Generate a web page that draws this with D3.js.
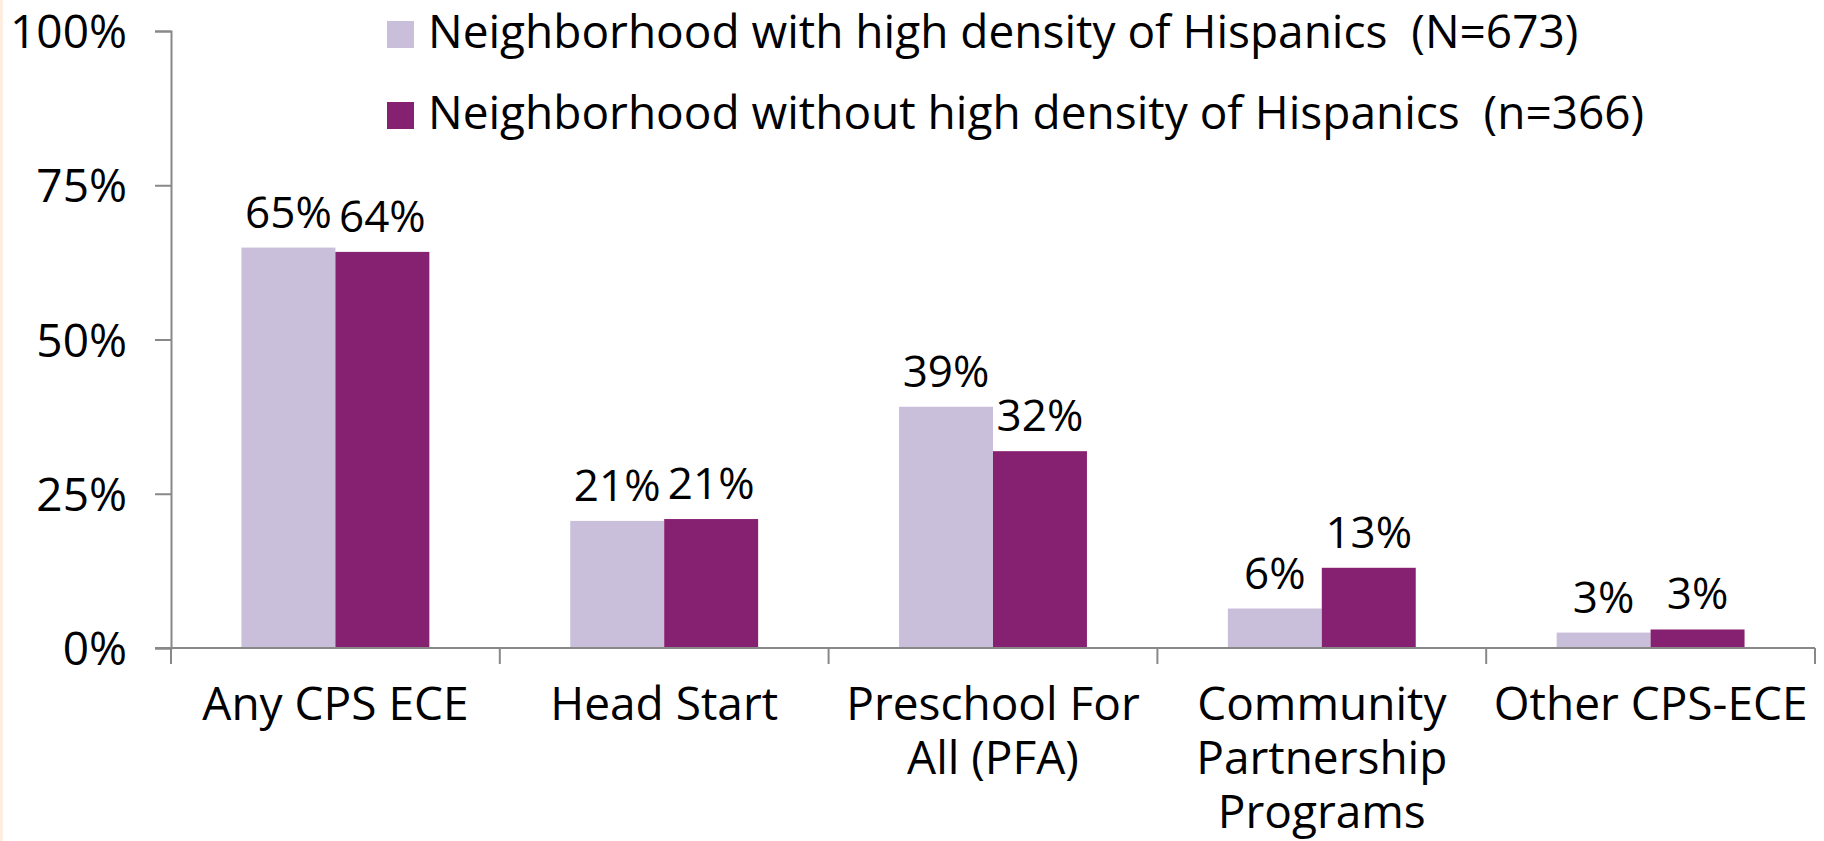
<!DOCTYPE html>
<html><head><meta charset="utf-8">
<script src="https://cdn.jsdelivr.net/npm/d3@7"></script>
<style>
html,body{margin:0;padding:0;background:#fff;}
svg text{font-family:"Open Sans","Noto Sans",sans-serif;fill:#000;white-space:pre;}
</style></head>
<body><svg id="c" width="1824" height="841"></svg>
<script>
const categories = [["Any CPS ECE"],["Head Start"],["Preschool For","All (PFA)"],["Community","Partnership","Programs"],["Other CPS-ECE"]];
const seriesNames = ["Neighborhood with high density of Hispanics  (N=673)","Neighborhood without high density of Hispanics  (n=366)"];
const highDensity = [64.9, 20.6, 39.1, 6.4, 2.5];
const withoutHigh = [64.2, 20.9, 31.9, 13.0, 3.0];
const highLabels = ["65%","21%","39%","6%","3%"];
const withoutLabels = ["64%","21%","32%","13%","3%"];
const yTicks = [0,25,50,75,100];
const colors = ["#C9BFDA","#862071"];

(function(){
const FS = 46;
const svg = d3.select("#c");
svg.append("rect").attr("x",0).attr("y",0).attr("width",3).attr("height",841).attr("fill","#fdeee0");

const pL=171, pR=1815, pT=31, pB=648;
const y = d3.scaleLinear().domain([0,100]).range([pB, pT]);
const keys = categories.map(c=>c.join(" "));
const x0 = d3.scaleBand().domain(keys).range([pL,pR]).padding(0);
const x1 = d3.scaleBand().domain([0,1]).range([0,x0.bandwidth()]).paddingInner(0).paddingOuter(0.75);

const data = keys.map((k,i)=>({k, vals:[highDensity[i],withoutHigh[i]], labs:[highLabels[i],withoutLabels[i]]}));

const g = svg.append("g");
const grp = g.selectAll("g.cat").data(data).enter().append("g").attr("transform",d=>`translate(${x0(d.k)},0)`);
grp.selectAll("rect").data(d=>d.vals.map((v,j)=>({v,j,l:d.labs[j]}))).enter().append("rect")
  .attr("x",d=>x1(d.j)).attr("width",x1.bandwidth())
  .attr("y",d=>y(d.v)).attr("height",d=>y(0)-y(d.v)).attr("fill",d=>colors[d.j]);
grp.selectAll("text.lab").data(d=>d.vals.map((v,j)=>({v,j,l:d.labs[j]}))).enter().append("text")
  .attr("class","lab").attr("x",d=>x1(d.j)+x1.bandwidth()/2).attr("y",d=>y(d.v)-20)
  .attr("text-anchor","middle").attr("font-size",44).text(d=>d.l);

// y axis
const yAxis = d3.axisLeft(y).tickValues(yTicks).tickFormat(d=>d+"%").tickSize(16).tickPadding(28);
const ya = svg.append("g").attr("transform",`translate(${pL},0)`).call(yAxis);
ya.select(".domain").attr("stroke","#888").attr("stroke-width",2);
ya.selectAll(".tick line").attr("stroke","#888").attr("stroke-width",2);
ya.selectAll(".tick text").attr("font-size",FS).attr("font-family","'Open Sans'").attr("fill","#000").attr("dy","0.36em");

// x axis
const xa = svg.append("g").attr("transform",`translate(0,${pB})`);
xa.append("line").attr("x1",pL-16).attr("x2",pR).attr("y1",0).attr("y2",0).attr("stroke","#888").attr("stroke-width",2);
const tickPos = keys.map(k=>x0(k)).concat([pR]);
xa.selectAll("line.t").data(tickPos).enter().append("line").attr("class","t")
  .attr("x1",d=>d).attr("x2",d=>d).attr("y1",0).attr("y2",16).attr("stroke","#888").attr("stroke-width",2);
const xl = xa.selectAll("text.cl").data(categories).enter().append("text").attr("class","cl")
  .attr("text-anchor","middle").attr("font-size",FS)
  .attr("transform",(d,i)=>`translate(${x0(keys[i])+x0.bandwidth()/2},72)`);
xl.selectAll("tspan").data(d=>d).enter().append("tspan").attr("x",0).attr("dy",(d,i)=>i===0?0:54).text(d=>d);

// legend
const lg = svg.append("g").attr("transform","translate(387,21)");
seriesNames.forEach((s,i)=>{
  lg.append("rect").attr("x",0).attr("y",i*81).attr("width",27).attr("height",27).attr("fill",colors[i]);
  lg.append("text").attr("x",41).attr("y",i*81+27).attr("font-size",FS).text(s);
});
})();
</script></body></html>
